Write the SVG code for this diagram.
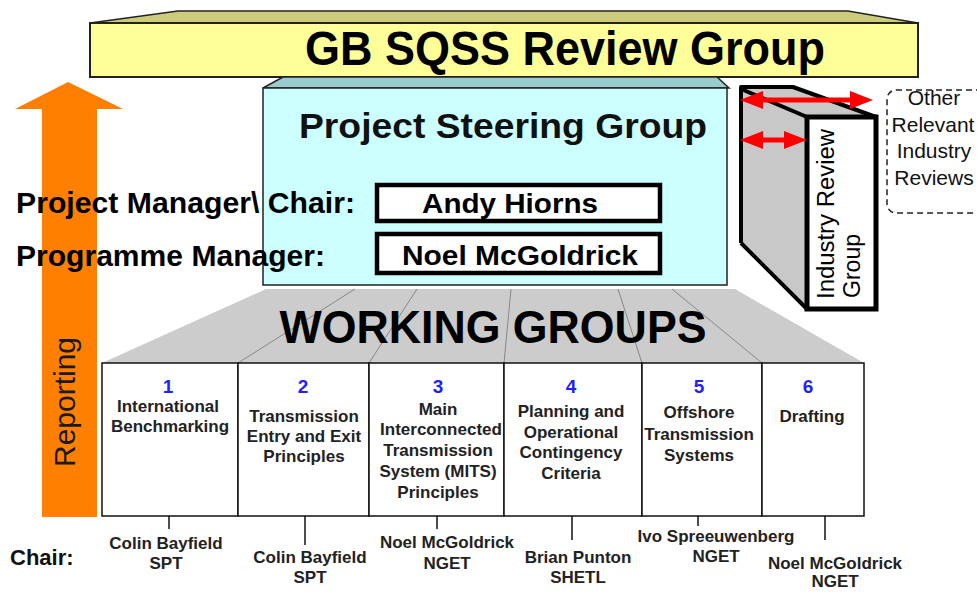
<svg xmlns="http://www.w3.org/2000/svg" width="977" height="592" viewBox="0 0 977 592">
<style>
text{font-family:"Liberation Sans",Arial,Helvetica,sans-serif}
.b{font-weight:bold}
.wg{font-size:17px;font-weight:bold;fill:#222;text-anchor:middle}
.num{font-size:19px;font-weight:bold;fill:#1f1fff;text-anchor:middle}
.ch{font-size:17px;font-weight:bold;fill:#222;text-anchor:middle}
.oth{font-size:21px;fill:#111;text-anchor:middle}
.tick{stroke:#111;stroke-width:1.5}
.red{stroke:#ff0000;stroke-width:5;fill:none}
.div{stroke:#888;stroke-width:1}
</style>
<defs>
<marker id="rh" markerUnits="userSpaceOnUse" markerWidth="23" markerHeight="18" refX="13" refY="9" orient="auto-start-reverse">
<path d="M0,0 L23,9 L0,18 z" fill="#ff0000"/>
</marker>
</defs>

<g id="review-group">
<polygon points="90,23 178,11 848,11 918,23" fill="#cccc7a" stroke="#222" stroke-width="1.5"/>
<rect x="90" y="23" width="828" height="54" fill="#ffff99" stroke="#222" stroke-width="2"/>
<text x="565" y="65" class="b" font-size="48" text-anchor="middle" textLength="520" lengthAdjust="spacingAndGlyphs" fill="#000">GB SQSS Review Group</text>
</g>

<g id="reporting-arrow">
<polygon points="68,82 123,109 97,109 97,517 42,517 42,109 15,109" fill="#ff8000"/>
<text transform="translate(75,402) rotate(-90)" font-size="30" text-anchor="middle" textLength="130" lengthAdjust="spacingAndGlyphs" fill="#1a1a1a">Reporting</text>
</g>

<g id="working-groups-header">
<polygon points="266,289 735,289 864,363 102,363" fill="#cccccc"/>
<line class="div" x1="355" y1="289" x2="238" y2="363"/>
<line class="div" x1="417" y1="289" x2="369" y2="363"/>
<line class="div" x1="511" y1="289" x2="504" y2="363"/>
<line class="div" x1="618" y1="289" x2="642" y2="363"/>
<line class="div" x1="672" y1="289" x2="762" y2="363"/>
<text x="493" y="343" class="b" font-size="47" text-anchor="middle" textLength="427" lengthAdjust="spacingAndGlyphs" fill="#000">WORKING GROUPS</text>
</g>

<g id="steering-group">
<polygon points="263,88 283,77 717,77 729,88" fill="#99cccc" stroke="#222" stroke-width="1.5"/>
<rect x="263" y="88" width="464" height="197" fill="#ccffff" stroke="#222" stroke-width="1.5"/>
<text x="503" y="138" class="b" font-size="35" text-anchor="middle" textLength="408" lengthAdjust="spacingAndGlyphs" fill="#111">Project Steering Group</text>
<g id="chair-box">
<rect x="377" y="185" width="283" height="36" fill="#fff" stroke="#000" stroke-width="4.5"/>
<text x="510" y="213" class="b" font-size="28" text-anchor="middle" textLength="176" lengthAdjust="spacingAndGlyphs" fill="#000">Andy Hiorns</text>
</g>
<g id="manager-box">
<rect x="377" y="234" width="283" height="39" fill="#fff" stroke="#000" stroke-width="4.5"/>
<text x="520" y="265" class="b" font-size="28" text-anchor="middle" textLength="236" lengthAdjust="spacingAndGlyphs" fill="#000">Noel McGoldrick</text>
</g>
</g>

<g id="role-labels">
<text x="16" y="213" class="b" font-size="29" textLength="339" lengthAdjust="spacingAndGlyphs" fill="#000">Project Manager\ Chair:</text>
<text x="16" y="266" class="b" font-size="29" textLength="309" lengthAdjust="spacingAndGlyphs" fill="#000">Programme Manager:</text>
</g>

<g id="industry-review-group">
<polygon points="741,87 793,87 876,117 807,117 807,309 741,243" fill="#c8c8c8"/>
<path d="M741,243 L741,87 L793,87 L876,117 M741,89 L807,117 M741,243 L807,309" fill="none" stroke="#000" stroke-width="4" stroke-linejoin="round"/>
<rect x="807" y="117" width="69" height="192" fill="#fff" stroke="#000" stroke-width="5"/>
<text transform="translate(834,299) rotate(-90)" font-size="23" textLength="170" lengthAdjust="spacingAndGlyphs" fill="#000">Industry Review</text>
<text transform="translate(860,298) rotate(-90)" font-size="23" textLength="64" lengthAdjust="spacingAndGlyphs" fill="#000">Group</text>
</g>

<g id="other-reviews">
<rect x="887" y="90" width="110" height="123" rx="9" ry="9" fill="#fff" stroke="#222" stroke-width="1.5" stroke-dasharray="6,4"/>
<text x="934" y="105" class="oth">Other</text>
<text x="933" y="132" class="oth">Relevant</text>
<text x="934" y="158" class="oth">Industry</text>
<text x="934" y="185" class="oth">Reviews</text>
</g>

<g id="wg1">
<rect x="102" y="363" width="136" height="153" fill="#fff" stroke="#111" stroke-width="1.5"/>
<text x="168" y="393" class="num">1</text>
<text x="168" y="412" class="wg">International</text>
<text x="170" y="432" class="wg">Benchmarking</text>
</g>
<g id="wg2">
<rect x="238" y="363" width="131" height="153" fill="#fff" stroke="#111" stroke-width="1.5"/>
<text x="303" y="393" class="num">2</text>
<text x="304" y="422" class="wg">Transmission</text>
<text x="304" y="442" class="wg">Entry and Exit</text>
<text x="304" y="462" class="wg">Principles</text>
</g>
<g id="wg3">
<rect x="369" y="363" width="135" height="153" fill="#fff" stroke="#111" stroke-width="1.5"/>
<text x="438" y="393" class="num">3</text>
<text x="438" y="415" class="wg">Main</text>
<text x="441" y="435" class="wg">Interconnected</text>
<text x="438" y="456" class="wg">Transmission</text>
<text x="438" y="477" class="wg">System (MITS)</text>
<text x="438" y="498" class="wg">Principles</text>
</g>
<g id="wg4">
<rect x="504" y="363" width="138" height="153" fill="#fff" stroke="#111" stroke-width="1.5"/>
<text x="571" y="393" class="num">4</text>
<text x="571" y="417" class="wg">Planning and</text>
<text x="571" y="438" class="wg">Operational</text>
<text x="571" y="458" class="wg">Contingency</text>
<text x="571" y="479" class="wg">Criteria</text>
</g>
<g id="wg5">
<rect x="642" y="363" width="120" height="153" fill="#fff" stroke="#111" stroke-width="1.5"/>
<text x="699" y="393" class="num">5</text>
<text x="699" y="418" class="wg">Offshore</text>
<text x="699" y="440" class="wg">Transmission</text>
<text x="699" y="461" class="wg">Systems</text>
</g>
<g id="wg6">
<rect x="762" y="363" width="102" height="153" fill="#fff" stroke="#111" stroke-width="1.5"/>
<text x="808" y="393" class="num">6</text>
<text x="812" y="422" class="wg">Drafting</text>
</g>

<g id="connectors">
<line class="red" x1="750" y1="100" x2="863" y2="100" marker-start="url(#rh)" marker-end="url(#rh)"/>
<line class="red" x1="750" y1="140" x2="797" y2="140" marker-start="url(#rh)" marker-end="url(#rh)"/>
<line class="tick" x1="169" y1="516" x2="169" y2="529"/>
<line class="tick" x1="305" y1="516" x2="305" y2="545"/>
<line class="tick" x1="437" y1="516" x2="437" y2="529"/>
<line class="tick" x1="572" y1="516" x2="572" y2="540"/>
<line class="tick" x1="698" y1="516" x2="698" y2="526"/>
<line class="tick" x1="825" y1="516" x2="825" y2="540"/>
</g>

<g id="chairs">
<text x="10" y="565" class="b" font-size="22" fill="#111">Chair:</text>
<text x="166" y="549" class="ch">Colin Bayfield</text>
<text x="166" y="569" class="ch">SPT</text>
<text x="310" y="563" class="ch">Colin Bayfield</text>
<text x="310" y="583" class="ch">SPT</text>
<text x="447" y="548" class="ch">Noel McGoldrick</text>
<text x="447" y="569" class="ch">NGET</text>
<text x="578" y="563" class="ch">Brian Punton</text>
<text x="578" y="583" class="ch">SHETL</text>
<text x="716" y="542" class="ch">Ivo Spreeuwenberg</text>
<text x="716" y="562" class="ch">NGET</text>
<text x="835" y="569" class="ch">Noel McGoldrick</text>
<text x="835" y="587" class="ch">NGET</text>
</g>
</svg>
